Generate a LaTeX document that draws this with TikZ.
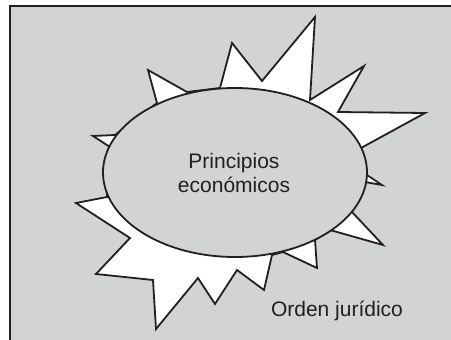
\documentclass[tikz,border=0pt]{standalone}
\usepackage{fontspec}
\setmainfont{Liberation Sans}
\definecolor{bg}{HTML}{D1D3D4}
\definecolor{ink}{HTML}{231F20}
\begin{document}
\begin{tikzpicture}[x=1pt,y=-1pt,
  burst/.style={draw=ink,fill=white,line width=1.8pt,line join=miter},
  lbl/.style={text=ink,font=\fontsize{21}{23.5}\selectfont,align=center,inner sep=0pt}]
\useasboundingbox (0,0) rectangle (451,340);
\clip (0,0) rectangle (451,340);
\fill[white] (0,0) rectangle (451,340);
\draw[draw=ink,fill=bg,line width=2pt] (10,6) rectangle (470,360);
\draw[burst] (315,17) -- (310,100) -- (364,66) -- (338,112) -- (425,113) -- (361,148)
  -- (367,175) -- (382,185) -- (365,182) -- (352,212) -- (383,245) -- (330,230)
  -- (315,240) -- (317,268) -- (283,252) -- (272,255) -- (264,290) -- (237,270)
  -- (215,304) -- (198,278) -- (156,329) -- (153,280) -- (96,274) -- (130,238)
  -- (76,203) -- (107,197) -- (110,147) -- (93,136) -- (115,135) -- (157,103)
  -- (148,70) -- (187,92) -- (220,88) -- (232,43) -- (262,81) -- cycle;
\draw[draw=ink,fill=bg,line width=1.8pt] (235,172.5) ellipse [x radius=132, y radius=84.5];
\node[lbl] (pe) at (234,173) {Principios\\económicos};
\node[lbl] (oj) at (337,311) {Orden jurídico};
\end{tikzpicture}
\end{document}
